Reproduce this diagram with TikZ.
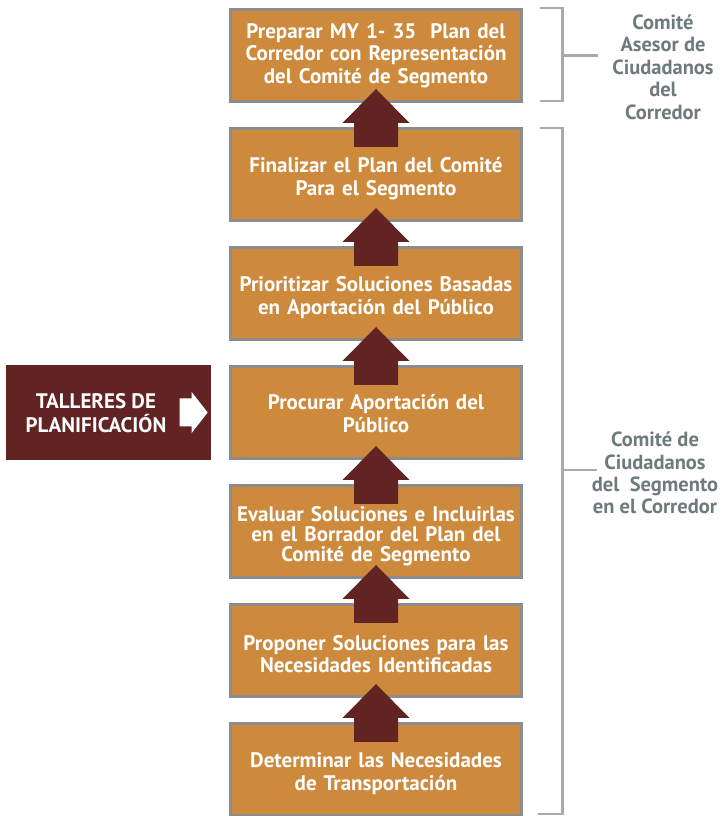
\documentclass[tikz,border=0pt]{standalone}
\usepackage{fontspec}
\setmainfont{PT Sans}
\usetikzlibrary{positioning,calc}
\definecolor{ocre}{HTML}{CD8A3D}
\definecolor{vino}{HTML}{622323}
\definecolor{borde}{HTML}{8C8C8C}
\definecolor{llave}{HTML}{A8ABAB}
\definecolor{gristexto}{HTML}{6E7B7A}
\newcommand{\bajar}[1]{\rule{0pt}{#1}}

\begin{document}
\begin{tikzpicture}
  [x=1pt,y=1pt,
   pasoN/.style={rectangle,draw=borde,line width=3pt,fill=ocre,
     minimum width=291pt,minimum height=92pt,text width=285pt,align=center,
     text=white,font=\bfseries\fontsize{21}{22.5}\selectfont},
   tallerN/.style={rectangle,fill=vino,minimum width=205pt,minimum height=95pt},
   blancoT/.style={text=white,align=center,font=\bfseries\fontsize{21}{24}\selectfont},
   comiteT/.style={text=gristexto,align=center,font=\bfseries\fontsize{20.5}{22.4}\selectfont},
   flecha/.style={fill=vino},
   llaveL/.style={draw=llave,line width=2.5pt},
   node distance=24pt]

  \useasboundingbox (0,0) rectangle (720,816);

  % pasos del plan
  \node[pasoN] (b1) at (376,760.5) {Preparar MY 1- 35\ \ Plan del\\Corredor con Representación\\del Comité de Segmento};
  \node[pasoN] (b2) [below=of b1] {\bajar{23pt}Finalizar el Plan del Comité\\Para el Segmento};
  \node[pasoN] (b3) [below=of b2] {\bajar{23pt}Prioritizar Soluciones Basadas\\en Aportación del Público};
  \node[pasoN] (b4) [below=of b3] {\bajar{17pt}Procurar Aportación del\\Público};
  \node[pasoN,font=\bfseries\fontsize{21}{20}\selectfont] (b5) [below=of b4]
    {\bajar{25pt}Evaluar Soluciones e Incluirlas\\en el Borrador del Plan del\\Comité de Segmento};
  \node[pasoN] (b6) [below=of b5] {\bajar{22pt}Proponer Soluciones para las\\Necesidades Identificadas};
  \node[pasoN] (b7) [below=of b6] {\bajar{23pt}Determinar las Necesidades\\de Transportación};

  % flechas hacia arriba
  \foreach \lo/\up in {b2/b1,b3/b2,b4/b3,b5/b4,b6/b5,b7/b6}
    \fill[flecha] ($(\lo.north)+(-22,-20)$) -- ++(0,24) -- ++(-11.5,0)
      -- ($(\up.south)+(0,14)$) -- ($(\lo.north)+(33.5,4)$) -- ++(-11.5,0)
      -- ++(0,-24) -- cycle;

  % talleres
  \node[tallerN] (talleres) [left=17pt of b4] {};
  \node[blancoT] (tallerT) at ([xshift=-13pt,yshift=-1pt]talleres.center) {TALLERES DE\\PLANIFICACIÓN};
  \fill[white] ($(talleres.east)+(-32,-14)$) -- ++(0,28) -- ++(12,0) -- ++(0,6.5)
    -- ($(talleres.east)+(-4,0)$) -- ++(-16,-20.5) -- ++(0,6.5) -- cycle;

  % llaves de los comites
  \draw[llaveL] ([xshift=17pt]b1.north east) -| ($(b1.east)+(39,0)$) coordinate (m1)
    |- ([xshift=17pt,yshift=2pt]b1.south east);
  \draw[llaveL] (m1 |- b1.east) -- ++(36,0) coordinate (c1);
  \draw[llaveL] ([xshift=17pt,yshift=-1pt]b2.north east) -| (m1 |- 0,2)
    -- ([xshift=15pt]b7.south east |- 0,2);
  \draw[llaveL] (m1 |- 0,346) -- ++(35,0) coordinate (c2);

  \node[comiteT] (asesor) at (663,749) {Comité\\Asesor de\\Ciudadanos\\del\\Corredor};
  \node[comiteT] (segmento) at (655,343) {Comité de\\Ciudadanos\\del\ \ Segmento\\en el Corredor};
\end{tikzpicture}
\end{document}
